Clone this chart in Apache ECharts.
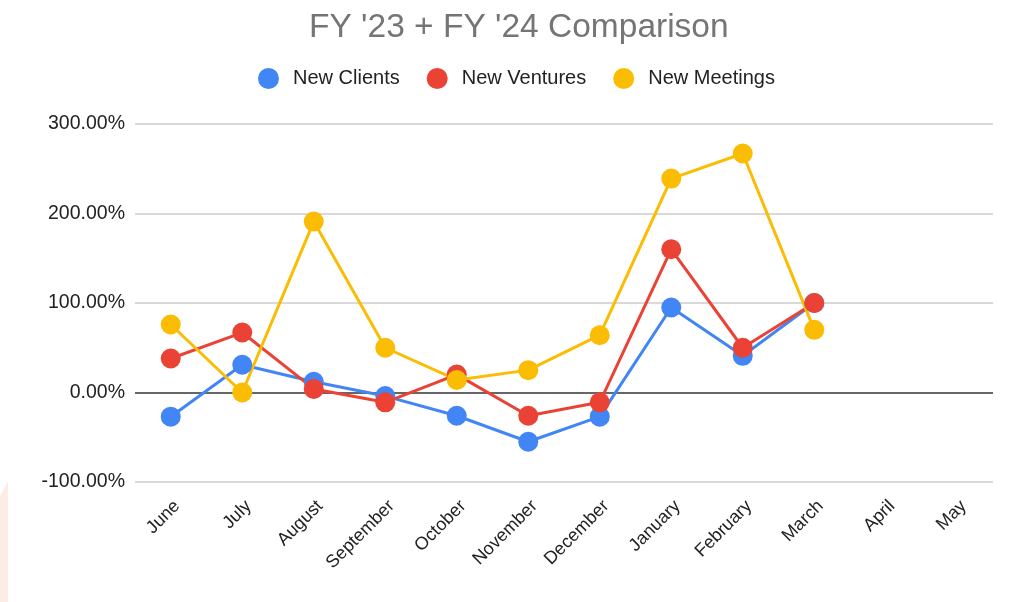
<!DOCTYPE html>
<html>
<head>
<meta charset="utf-8">
<script src="https://cdn.jsdelivr.net/npm/echarts@6/dist/echarts.min.js"></script>
<style>
  html, body { margin: 0; padding: 0; background: #fff; }
  #chart { width: 1012px; height: 602px; }
</style>
</head>
<body>
<div id="chart"></div>
<script>
// months of the fiscal year
const months = ['June', 'July', 'August', 'September', 'October', 'November',
  'December', 'January', 'February', 'March', 'April', 'May']

// year over year change, in percent
const newClients = [-27, 31, 12, -4, -26, -55, -27, 95, 41, 100]
const newVentures = [38, 67, 4, -11, 20, -26, -11, 160, 50, 100]
const newMeetings = [76, 0, 191, 50, 14, 25, 64, 239, 267, 70]

const font = '"Liberation Sans", Arial, sans-serif'

function lineSeries (name, data, color) {
  return {
    name: name,
    type: 'line',
    data: data,
    symbol: 'circle',
    symbolSize: 20,
    color: color,
    lineStyle: { width: 3, color: color },
    itemStyle: { color: color },
    emphasis: { disabled: true }
  }
}

const chart = echarts.init(document.getElementById('chart'))
chart.setOption({
  animation: false,
  title: {
    text: "FY '23 + FY '24 Comparison",
    left: 304,
    top: 6,
    textStyle: { fontFamily: font, fontSize: 33.5, fontWeight: 'normal', color: '#757575' }
  },
  legend: {
    top: 63,
    left: 253,
    icon: 'circle',
    itemWidth: 21,
    itemHeight: 21,
    itemGap: 27,
    textStyle: { fontFamily: font, fontSize: 20, color: '#222', padding: [0, 0, 0, 9] },
    data: ['New Clients', 'New Ventures', 'New Meetings']
  },
  // faint decoration at the bottom-left edge
  graphic: [{
    type: 'polygon',
    shape: { points: [[0, 496], [8, 482], [8, 602], [0, 602]] },
    style: { fill: '#fdebe6' },
    silent: true
  }],
  grid: { left: 135, right: 19, top: 124, bottom: 120 },
  xAxis: {
    type: 'category',
    data: months,
    boundaryGap: true,
    axisLine: { show: false },
    axisTick: { show: false },
    axisLabel: {
      rotate: 45,
      interval: 0,
      margin: 15,
      verticalAlign: 'top',
      fontFamily: font,
      fontSize: 18,
      color: '#222'
    }
  },
  yAxis: {
    type: 'value',
    min: -100,
    max: 300,
    interval: 100,
    axisLine: { show: false },
    axisTick: { show: false },
    axisLabel: {
      margin: 10,
      fontFamily: font,
      fontSize: 19.5,
      color: '#222',
      formatter: v => v.toFixed(2) + '%'
    },
    splitLine: {
      lineStyle: {
        width: 1.5,
        color: ['#cccccc', '#333333', '#cccccc', '#cccccc', '#cccccc']
      }
    }
  },
  series: [
    lineSeries('New Clients', newClients, '#4285F4'),
    lineSeries('New Ventures', newVentures, '#EA4335'),
    lineSeries('New Meetings', newMeetings, '#FBBC04')
  ]
})
</script>
</body>
</html>
